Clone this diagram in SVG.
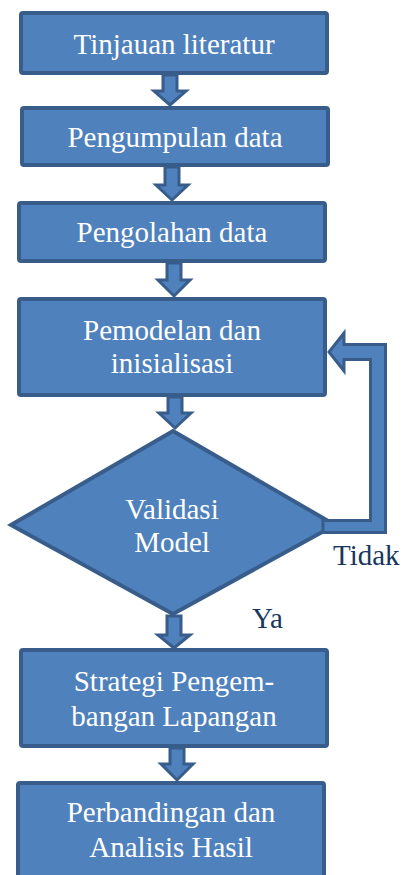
<svg xmlns="http://www.w3.org/2000/svg" width="404" height="875" viewBox="0 0 404 875">
<style>
.box{fill:#4f81bd;stroke:#385d8a;stroke-width:4;}
.arr{fill:#4f81bd;stroke:#385d8a;stroke-width:3;stroke-linejoin:miter;}
text{font-family:'Liberation Serif','Times New Roman',Times,'DejaVu Serif',serif;font-size:29px;}
.t{fill:#ffffff;text-anchor:middle;}
.lbl{fill:#17375e;}
</style>
<rect width="404" height="875" fill="#ffffff"/>
<g id="n1"><rect class="box" x="21" y="13" width="306" height="60" rx="2"/><text class="t" x="174" y="54">Tinjauan literatur</text></g>
<g id="n2"><rect class="box" x="22" y="108" width="306" height="57" rx="2"/><text class="t" x="175" y="147">Pengumpulan data</text></g>
<g id="n3"><rect class="box" x="19" y="203" width="306" height="58" rx="2"/><text class="t" x="172" y="242">Pengolahan data</text></g>
<g id="n4"><rect class="box" x="19" y="299" width="306" height="96" rx="2"/><text class="t" x="172" y="340">Pemodelan dan</text><text class="t" x="172" y="373">inisialisasi</text></g>
<g id="n5"><polygon class="box" points="173,431 335,525 173,614 11,525"/><text class="t" x="172" y="519">Validasi</text><text class="t" x="172" y="552">Model</text></g>
<g id="n6"><rect class="box" x="21" y="650" width="306" height="96" rx="2"/><text class="t" x="174" y="691">Strategi Pengem-</text><text class="t" x="174" y="726">bangan Lapangan</text></g>
<g id="n7"><rect class="box" x="18" y="783" width="306" height="100" rx="2"/><text class="t" x="171" y="822">Perbandingan dan</text><text class="t" x="171" y="857">Analisis Hasil</text></g>
<g id="connectors">
<polygon class="arr" points="163,75 177,75 177,91 186,91 170,105 154,91 163,91"/>
<polygon class="arr" points="165,167 179,167 179,185 188,185 172,200 156,185 165,185"/>
<polygon class="arr" points="167,263 181,263 181,280 190,280 174,296 158,280 167,280"/>
<polygon class="arr" points="168,397 182,397 182,413 191,413 175,428 159,413 168,413"/>
<polygon class="arr" points="167,616 181,616 181,635 190,635 174,648 158,635 167,635"/>
<polygon class="arr" points="170,748 184,748 184,764 193,764 177,780 161,764 170,764"/>
<polygon class="arr" points="323,520.5 370.5,520.5 370.5,359.5 344,359.5 344,371 329,352 344,333 344,344.5 385.5,344.5 385.5,532.5 323,532.5"/>
</g>
<text class="lbl" x="333" y="565">Tidak</text>
<text class="lbl" x="252" y="628">Ya</text>
</svg>
